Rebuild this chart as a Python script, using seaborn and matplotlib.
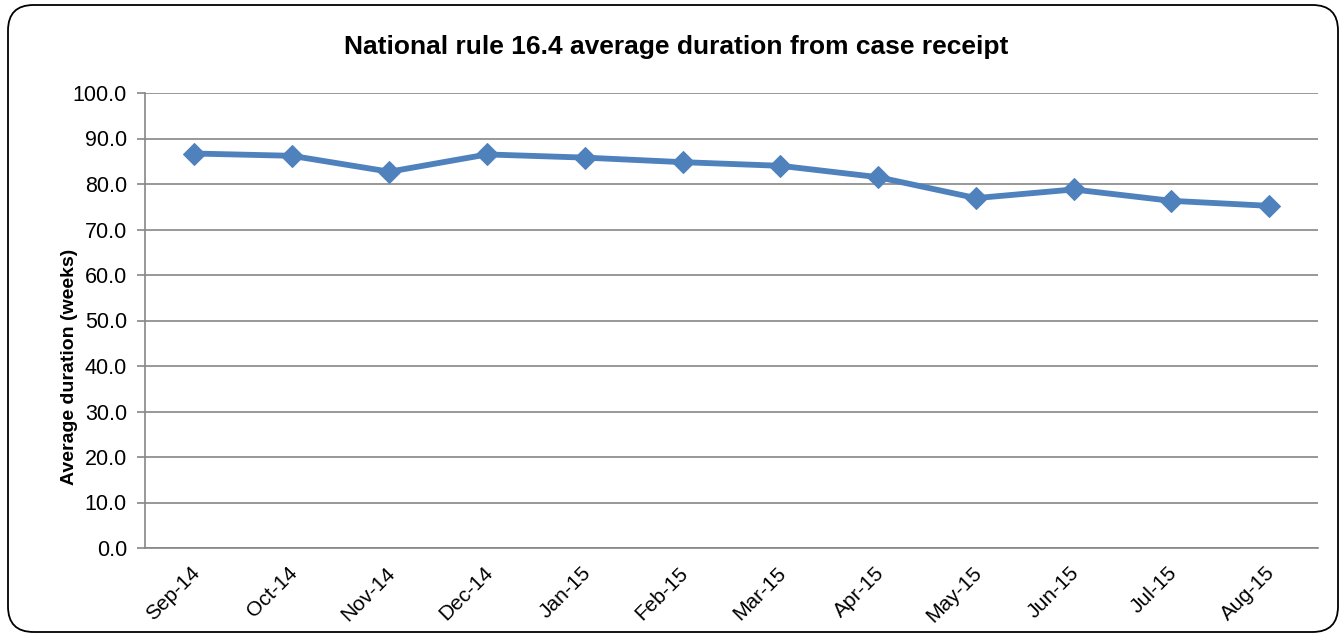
import pandas as pd
import matplotlib
matplotlib.use("Agg")
import matplotlib.pyplot as plt
import matplotlib.transforms as mtransforms
import seaborn as sns
from matplotlib.patches import FancyBboxPatch

months = ["Sep-14", "Oct-14", "Nov-14", "Dec-14", "Jan-15", "Feb-15",
          "Mar-15", "Apr-15", "May-15", "Jun-15", "Jul-15", "Aug-15"]
duration = [86.7, 86.2, 82.7, 86.5, 85.8, 84.8, 84.0, 81.5, 76.9, 78.8, 76.3, 75.2]

df = pd.DataFrame({"month": months, "duration": duration})

sns.set_style("white")
plt.rcParams["font.family"] = ["Liberation Sans", "DejaVu Sans"]
plt.rcParams["text.color"] = "black"
plt.rcParams["axes.labelcolor"] = "black"
plt.rcParams["xtick.color"] = "black"
plt.rcParams["ytick.color"] = "black"

fig = plt.figure(figsize=(13.44, 6.37), dpi=100)
ax = fig.add_axes([145 / 1344, 1 - 548 / 637, (1318 - 145) / 1344, (548 - 93) / 637])

sns.lineplot(
    data=df, x="month", y="duration", ax=ax,
    color="#4F81BD", linewidth=4.2, marker="D", markersize=11,
    markeredgecolor="#4F81BD"
)

ax.set_ylim(0, 100)
ax.set_xlim(-0.5, len(months) - 0.5)
ax.set_yticks(range(0, 101, 10))
ax.set_yticklabels([f"{v:.1f}" for v in range(0, 101, 10)], fontsize=15.5)
ax.set_xticks(range(len(months)))
ax.set_xticklabels(months, rotation=45, fontsize=15, ha="right", rotation_mode="anchor")
ax.set_xticks([i - 0.5 for i in range(len(months) + 1)], minor=True)
ax.tick_params(axis="x", which="major", length=0, pad=11)
ax.tick_params(axis="x", which="minor", length=6, color="#868686", width=1.2)
ax.tick_params(axis="y", length=6, color="#868686", width=1.2, left=True, pad=7)

# nudge the rotated month labels a little left
shift = mtransforms.ScaledTranslation(-4 / 100, 0, fig.dpi_scale_trans)
for lab in ax.get_xticklabels():
    lab.set_transform(lab.get_transform() + shift)

ax.yaxis.grid(True, color="#868686", linewidth=1.2)
ax.set_axisbelow(True)
for s in ["top", "right"]:
    ax.spines[s].set_visible(False)
for s in ["left", "bottom"]:
    ax.spines[s].set_color("#868686")
    ax.spines[s].set_linewidth(1.2)

ax.set_xlabel("")
ax.set_ylabel("Average duration (weeks)", fontsize=14, fontweight="bold")
ax.yaxis.set_label_coords((78 - 145) / 1173, (548 - 367) / 455)
fig.text(676 / 1344, 1 - 47 / 637, "National rule 16.4 average duration from case receipt",
         ha="center", va="center", fontsize=19, fontweight="bold")

border = FancyBboxPatch(
    (8 / 1344, 5 / 637), 1330 / 1344, 627 / 637,
    boxstyle="round,pad=0,rounding_size=0.019", mutation_aspect=1344 / 637,
    transform=fig.transFigure, facecolor="none", edgecolor="black", linewidth=1.3
)
fig.patches.append(border)

fig.savefig("out.png", dpi=100)
